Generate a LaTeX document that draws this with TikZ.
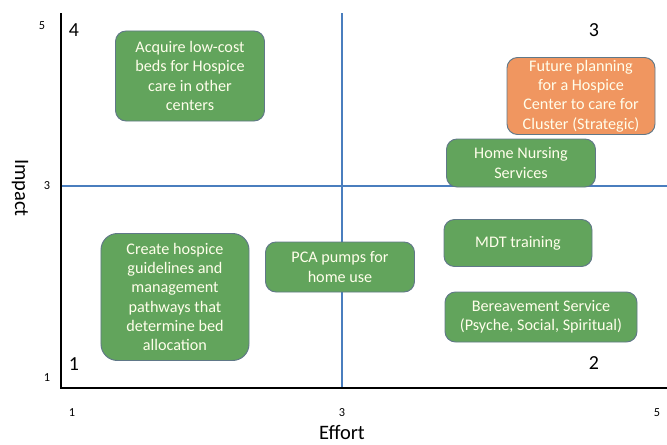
\documentclass[tikz,border=0pt]{standalone}
\usepackage{fontspec}
\setmainfont{Carlito}
\definecolor{taskgreen}{RGB}{98,164,92}
\definecolor{taskorange}{RGB}{240,150,96}
\definecolor{taskborder}{RGB}{96,120,136}
\definecolor{gridblue}{RGB}{74,126,190}
\tikzset{
    task/.style={draw=taskborder, fill=taskgreen, line width=0.8pt,
        rounded corners=9pt, text=white!92!yellow, align=center,
        font=\fontsize{13.8}{16.4}\selectfont, inner sep=2pt},
    quadnum/.style={font=\fontsize{17}{19}\selectfont},
    tick/.style={font=\fontsize{10.5}{12}\selectfont},
    axislabel/.style={font=\fontsize{17.5}{19}\selectfont}
}
\begin{document}
\begin{tikzpicture}[x=0.03cm, y=-0.03cm]
        % Page frame (pixel grid of the reference)
        \useasboundingbox (0,0) rectangle (667,444);

        % Quadrant dividers
        \draw[gridblue, line width=1.5pt] (342,13) -- (342,388);
        \draw[gridblue, line width=1.5pt] (61,186) -- (667,186);

        % Axes
        \draw[black, line width=2.4pt] (61,13) -- (61,388) -- (667,388);

        % Tick labels
        \node[tick] (y5) at (42,26) {5};
        \node[tick] (y3) at (47,186) {3};
        \node[tick] (y1) at (47,378) {1};
        \node[tick] (x1) at (72,413) {1};
        \node[tick] (x3) at (342,413) {3};
        \node[tick] (x5) at (657,413) {5};

        % Axis titles
        \node[axislabel, rotate=-90] (impact) at (20,188) {Impact};
        \node[axislabel] (effort) at (342,432) {Effort};

        % Quadrant numbers
        \node[quadnum] (q4) at (74,30) {4};
        \node[quadnum] (q3) at (594,30) {3};
        \node[quadnum] (q1) at (74,364) {1};
        \node[quadnum] (q2) at (594,363) {2};

        % Tasks
        \node[task, minimum width=4.47cm, minimum height=2.7cm] (acquire) at (190,76)
            {Acquire low-cost\\beds for Hospice\\care in other\\centers};
        \node[task, fill=taskorange, minimum width=4.44cm, minimum height=2.31cm] (future) at (581,96)
            {Future planning\\for a Hospice\\Center to care for\\Cluster (Strategic)};
        \node[task, minimum width=4.47cm, minimum height=1.44cm] (nursing) at (521,163)
            {Home Nursing\\Services};
        \node[task, minimum width=4.44cm, minimum height=1.41cm] (mdt) at (518,243)
            {MDT training};
        \node[task, minimum width=5.76cm, minimum height=1.5cm] (bereave) at (541,317)
            {Bereavement Service\\(Psyche, Social, Spiritual)};
        \node[task, minimum width=4.44cm, minimum height=3.81cm, rounded corners=14pt] (guidelines) at (175,297)
            {Create hospice\\guidelines and\\management\\pathways that\\determine bed\\allocation};
        \node[task, minimum width=4.47cm, minimum height=1.5cm] (pca) at (340,267)
            {PCA pumps for\\home use};
\end{tikzpicture}
\end{document}
